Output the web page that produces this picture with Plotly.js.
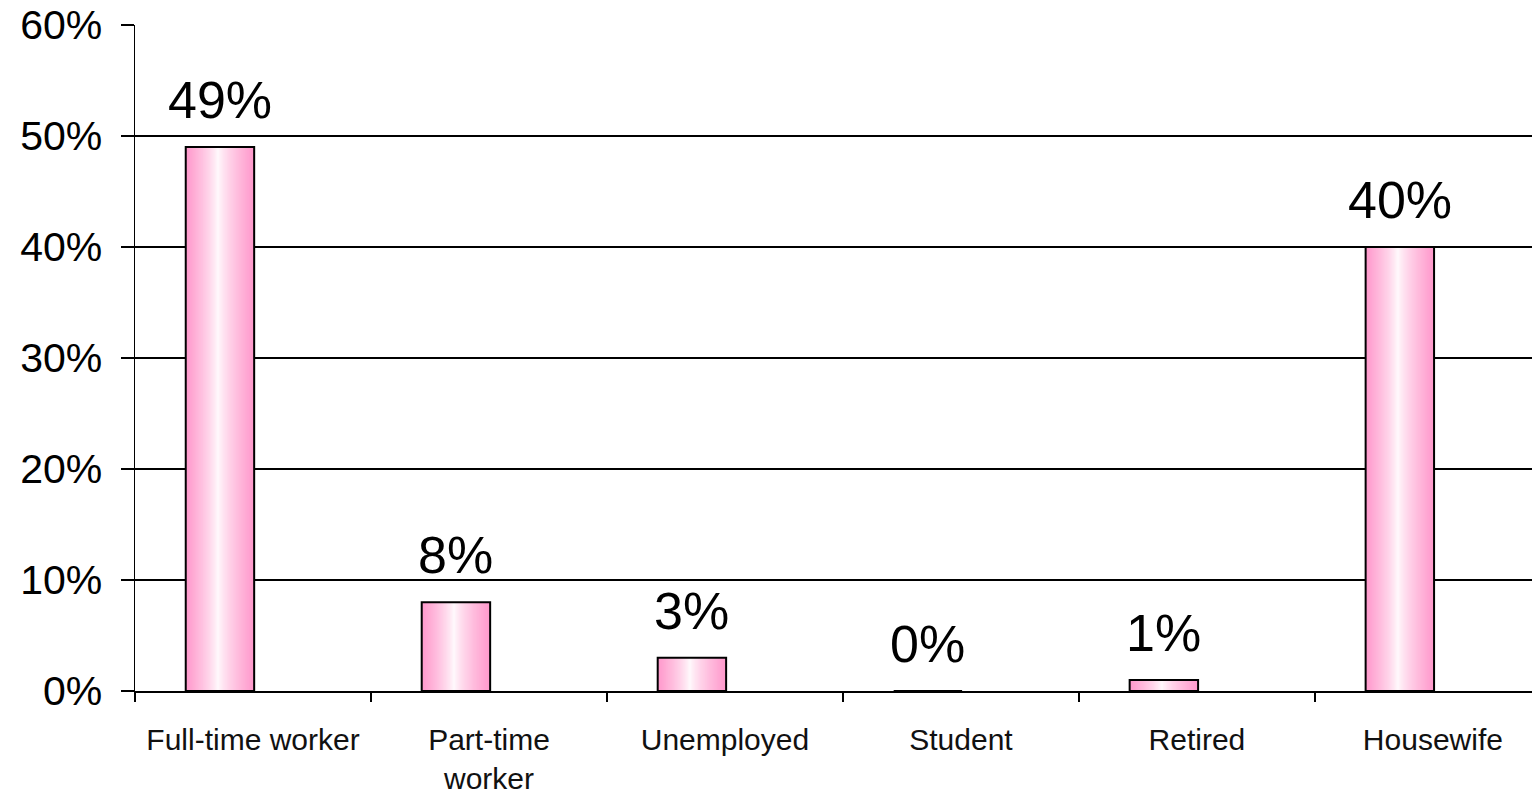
<!DOCTYPE html>
<html>
<head>
<meta charset="utf-8">
<script src="https://cdn.plot.ly/plotly-3.0.1.min.js"></script>
<style>
html,body{margin:0;padding:0;overflow:hidden;background:#fff;}
#chart{width:1532px;height:794px;}
</style>
</head>
<body>
<div id="chart"></div>
<script>
// ---- data ----
var categories = ["Full-time worker", "Part-time<br>worker", "Unemployed", "Student", "Retired", "Housewife"];
var values = [0.49, 0.08, 0.03, 0.00, 0.01, 0.40];
var valueLabels = ["49%", "8%", "3%", "0%", "1%", "40%"];
var yTickVals = [0, 0.1, 0.2, 0.3, 0.4, 0.5, 0.6];
var yTickText = ["0%", "10%", "20%", "30%", "40%", "50%", "60%"];

// ---- style ----
var barWidth = 0.29;      // in category units
var barOffset = -0.285;   // left edge relative to category centre
var whiteCentre = 0.47;   // position of white band across the bar
var steps = 28;
var pink = [255, 153, 204];

function mix(f) {
  var t = Math.pow(f, 0.75);
  var r = Math.round(255 + (pink[0] - 255) * t);
  var g = Math.round(255 + (pink[1] - 255) * t);
  var b = Math.round(255 + (pink[2] - 255) * t);
  return "rgb(" + r + "," + g + "," + b + ")";
}

var traces = [];
for (var k = 0; k < steps; k++) {
  var f = 1 - k / steps;
  traces.push({
    type: "bar",
    x: categories,
    y: values,
    width: barWidth * f,
    offset: barOffset + whiteCentre * barWidth * (1 - f),
    marker: {color: mix(f), line: {width: 0}},
    hoverinfo: "skip",
    showlegend: false
  });
}
// outline
traces.push({
  type: "bar",
  x: categories,
  y: values,
  width: barWidth,
  offset: barOffset,
  marker: {color: "rgba(0,0,0,0)", line: {color: "#000", width: 2}},
  hoverinfo: "skip",
  showlegend: false
});

var annotations = values.map(function (v, i) {
  return {
    x: i + barOffset + barWidth / 2,
    y: v,
    xref: "x", yref: "y",
    text: valueLabels[i],
    showarrow: false,
    yanchor: "bottom",
    yshift: 16,
    font: {family: "Liberation Sans, Arial, sans-serif", size: 52, color: "#000"}
  };
});

var layout = {
  width: 1532,
  height: 794,
  margin: {l: 135, r: 0, t: 25, b: 103},
  paper_bgcolor: "#fff",
  plot_bgcolor: "#fff",
  barmode: "overlay",
  showlegend: false,
  xaxis: {
    type: "category",
    range: [-0.5, 5.42],
    tickson: "boundaries",
    ticks: "outside",
    ticklen: 9,
    tickwidth: 1.5,
    tickcolor: "#000",
    showline: true,
    linecolor: "#000",
    linewidth: 1.5,
    showgrid: false,
    ticklabelstandoff: 21,
    tickfont: {family: "Liberation Sans, Arial, sans-serif", size: 30, color: "#111"},
    fixedrange: true
  },
  yaxis: {
    range: [0, 0.6],
    tickvals: yTickVals,
    ticktext: yTickText,
    ticks: "outside",
    ticklen: 13,
    tickwidth: 1.5,
    tickcolor: "#000",
    showline: true,
    linecolor: "#000",
    linewidth: 1.5,
    showgrid: true,
    gridcolor: "#000",
    gridwidth: 1.5,
    zeroline: false,
    ticklabelstandoff: 10,
    tickfont: {family: "Liberation Sans, Arial, sans-serif", size: 41, color: "#000"},
    fixedrange: true
  },
  annotations: annotations
};

Plotly.newPlot("chart", traces, layout, {displayModeBar: false, staticPlot: true});
</script>
</body>
</html>
